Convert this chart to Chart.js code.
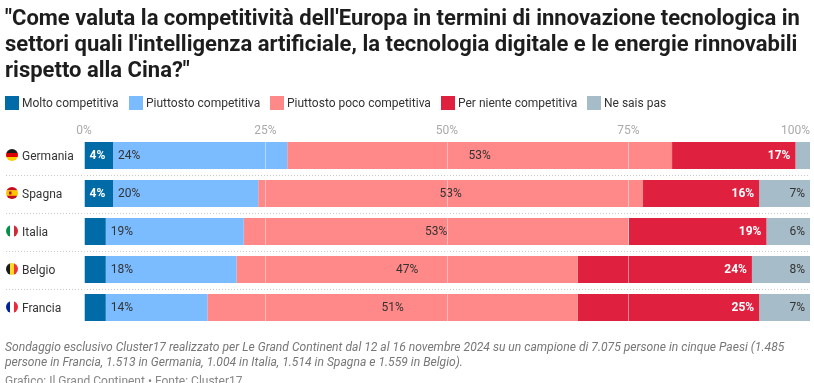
<!DOCTYPE html>
<html><head><meta charset="utf-8">
<script src="https://cdn.jsdelivr.net/npm/chart.js@4"></script>
<style>
html,body{margin:0;padding:0;background:#fff;overflow:hidden}
body{width:814px;height:383px;position:relative;font-family:Roboto,sans-serif}
canvas{position:absolute;left:0;top:0}
#title{position:absolute;left:5px;top:5px;width:808px;font:700 22px/26px Roboto,sans-serif;color:#1d1d1d;margin:0}
#legend{position:absolute;left:5px;top:96px;font:12px/14px Roboto,sans-serif;color:#333;white-space:nowrap}
#legend span{position:absolute;top:0;padding-left:17px}
#legend i{position:absolute;left:0;top:0;width:14px;height:14px}
#note{position:absolute;left:5px;top:340px;width:805px;font:italic 12.1px/15px Roboto,sans-serif;color:#777}
#src{position:absolute;left:5px;top:374px;font:12px/15px Roboto,sans-serif;color:#888;white-space:nowrap}
</style></head><body>
<canvas id="c" width="814" height="383"></canvas>
<h1 id="title">"Come valuta la competitività dell'Europa in termini di innovazione tecnologica in settori quali l'intelligenza artificiale, la tecnologia digitale e le energie rinnovabili rispetto alla Cina?"</h1>
<div id="legend"></div>
<div id="note">Sondaggio esclusivo Cluster17 realizzato per Le Grand Continent dal 12 al 16 novembre 2024 su un campione di 7.075 persone in cinque Paesi (1.485 persone in Francia, 1.513 in Germania, 1.004 in Italia, 1.514 in Spagna e 1.559 in Belgio).</div>
<div id="src">Grafico: Il Grand Continent • Fonte: Cluster17</div>
<script>
const categories = ["Germania","Spagna","Italia","Belgio","Francia"];
const seriesNames = ["Molto competitiva","Piuttosto competitiva","Piuttosto poco competitiva","Per niente competitiva","Ne sais pas"];
const molto    = [4,4,3,3,3];
const piuttosto= [24,20,19,18,14];
const poco     = [53,53,53,47,51];
const niente   = [17,16,19,24,25];
const nonSa    = [2,7,6,8,7];
const xTicks   = [0,25,50,75,100];
const colors   = ["#006ba6","#7abcff","#ff8888","#df213f","#a6bcc8"];
const legendX  = [0,124,265,436,582];
const flags = [
  {dir:"h",c:["#1a1a1a","#dd0000","#ffce00"]},
  {dir:"h",c:["#c60b1e","#ffc400","#c60b1e"],w:[.27,.46,.27],emblem:"#ad1519"},
  {dir:"v",c:["#009246","#ffffff","#ce2b37"]},
  {dir:"v",c:["#1a1a1a","#fdda24","#ef3340"]},
  {dir:"v",c:["#002395","#ffffff","#ed2939"]}
];
const values = [molto,piuttosto,poco,niente,nonSa];

const lg = document.getElementById("legend");
seriesNames.forEach((n,i)=>{
  const s=document.createElement("span");
  s.style.left=legendX[i]+"px";
  s.innerHTML='<i style="background:'+colors[i]+'"></i>'+n;
  lg.appendChild(s);
});

const decor = {
  id:"decor",
  beforeDraw(chart){
    const xs=chart.scales.x, it=xs.getLabelItems();
    const last=it[it.length-1];
    last.options.textAlign="right";
    last.options.translation[0]=xs.right;
    chart.scales.y.getLabelItems().forEach(l=>{l.options.translation[1]=Math.round(l.options.translation[1])+.5;});
  },
  beforeDatasetsDraw(chart){
    const {ctx,scales:{x,y}}=chart;
    ctx.save();
    ctx.strokeStyle="#c9c9c9";ctx.lineWidth=1;ctx.setLineDash([1,2]);
    for(let i=0;i<categories.length-1;i++){
      const yy=Math.round((y.getPixelForValue(i)+y.getPixelForValue(i+1))/2)+.5;
      ctx.beginPath();ctx.moveTo(6,yy);ctx.lineTo(x.right,yy);ctx.stroke();
    }
    ctx.restore();
    flags.forEach((f,i)=>{
      const cy=y.getPixelForValue(i)-.5,cx=12,r=6;
      ctx.save();
      ctx.beginPath();ctx.arc(cx,cy,r,0,Math.PI*2);ctx.clip();
      const w=f.w||[1/3,1/3,1/3];let p=-r;
      f.c.forEach((col,k)=>{
        ctx.fillStyle=col;
        const len=w[k]*2*r;
        if(f.dir==="h")ctx.fillRect(cx-r,cy+p,2*r,len+.3);
        else ctx.fillRect(cx+p,cy-r,len+.3,2*r);
        p+=len;
      });
      if(f.emblem){ctx.fillStyle=f.emblem;ctx.fillRect(cx-3,cy-1.5,2.5,3);}
      ctx.restore();
    });
  },
  afterDatasetsDraw(chart){
    const {ctx}=chart;
    ctx.save();
    ctx.textBaseline="middle";
    chart.data.datasets.forEach((ds,si)=>{
      chart.getDatasetMeta(si).data.forEach((bar,i)=>{
        const v=ds.data[i];
        if(v<4)return;
        const p=bar.getProps(["x","y","base"],true);
        const white=si===0||si===3;
        ctx.font=(white?"700 ":"400 ")+"12px Roboto, sans-serif";
        ctx.fillStyle=white?"#ffffff":"#333333";
        let tx;
        if(si<2){ctx.textAlign="left";tx=p.base+5;}
        else if(si===2){ctx.textAlign="center";tx=(p.base+p.x)/2;}
        else{ctx.textAlign="right";tx=p.x-5;}
        ctx.fillText(v+"%",tx,p.y+.5);
      });
    });
    ctx.restore();
  }
};

new Chart(document.getElementById("c"),{
  type:"bar",
  plugins:[decor],
  data:{labels:categories,datasets:seriesNames.map((n,i)=>({
    label:n,data:values[i],backgroundColor:colors[i],borderWidth:0,
    barPercentage:27/38,categoryPercentage:1
  }))},
  options:{
    indexAxis:"y",responsive:false,animation:false,devicePixelRatio:1,
    layout:{padding:{left:22,right:4,top:122,bottom:56.5}},
    plugins:{legend:{display:false},title:{display:false},tooltip:{enabled:false}},
    scales:{
      x:{position:"top",stacked:true,min:0,max:100,
        afterBuildTicks(s){s.ticks=xTicks.map(v=>({value:v}));},
        afterFit(s){s.height=14.5;s.paddingLeft=0;s.paddingRight=0;},
        border:{display:false},
        grid:{color:"rgba(255,255,255,0.45)",lineWidth:1,drawTicks:false,z:1},
        ticks:{padding:-2,maxRotation:0,autoSkip:false,color:"#aaaaaa",font:{family:"Roboto",size:12},callback:v=>v+"%"}
      },
      y:{stacked:true,
        afterFit(s){s.width=62;s.paddingTop=0;s.paddingBottom=0;},
        border:{display:false},
        grid:{display:false,drawTicks:false},
        ticks:{crossAlign:"far",padding:0,color:"#333333",font:{family:"Roboto",size:12}}
      }
    }
  }
});
</script>
</body></html>
